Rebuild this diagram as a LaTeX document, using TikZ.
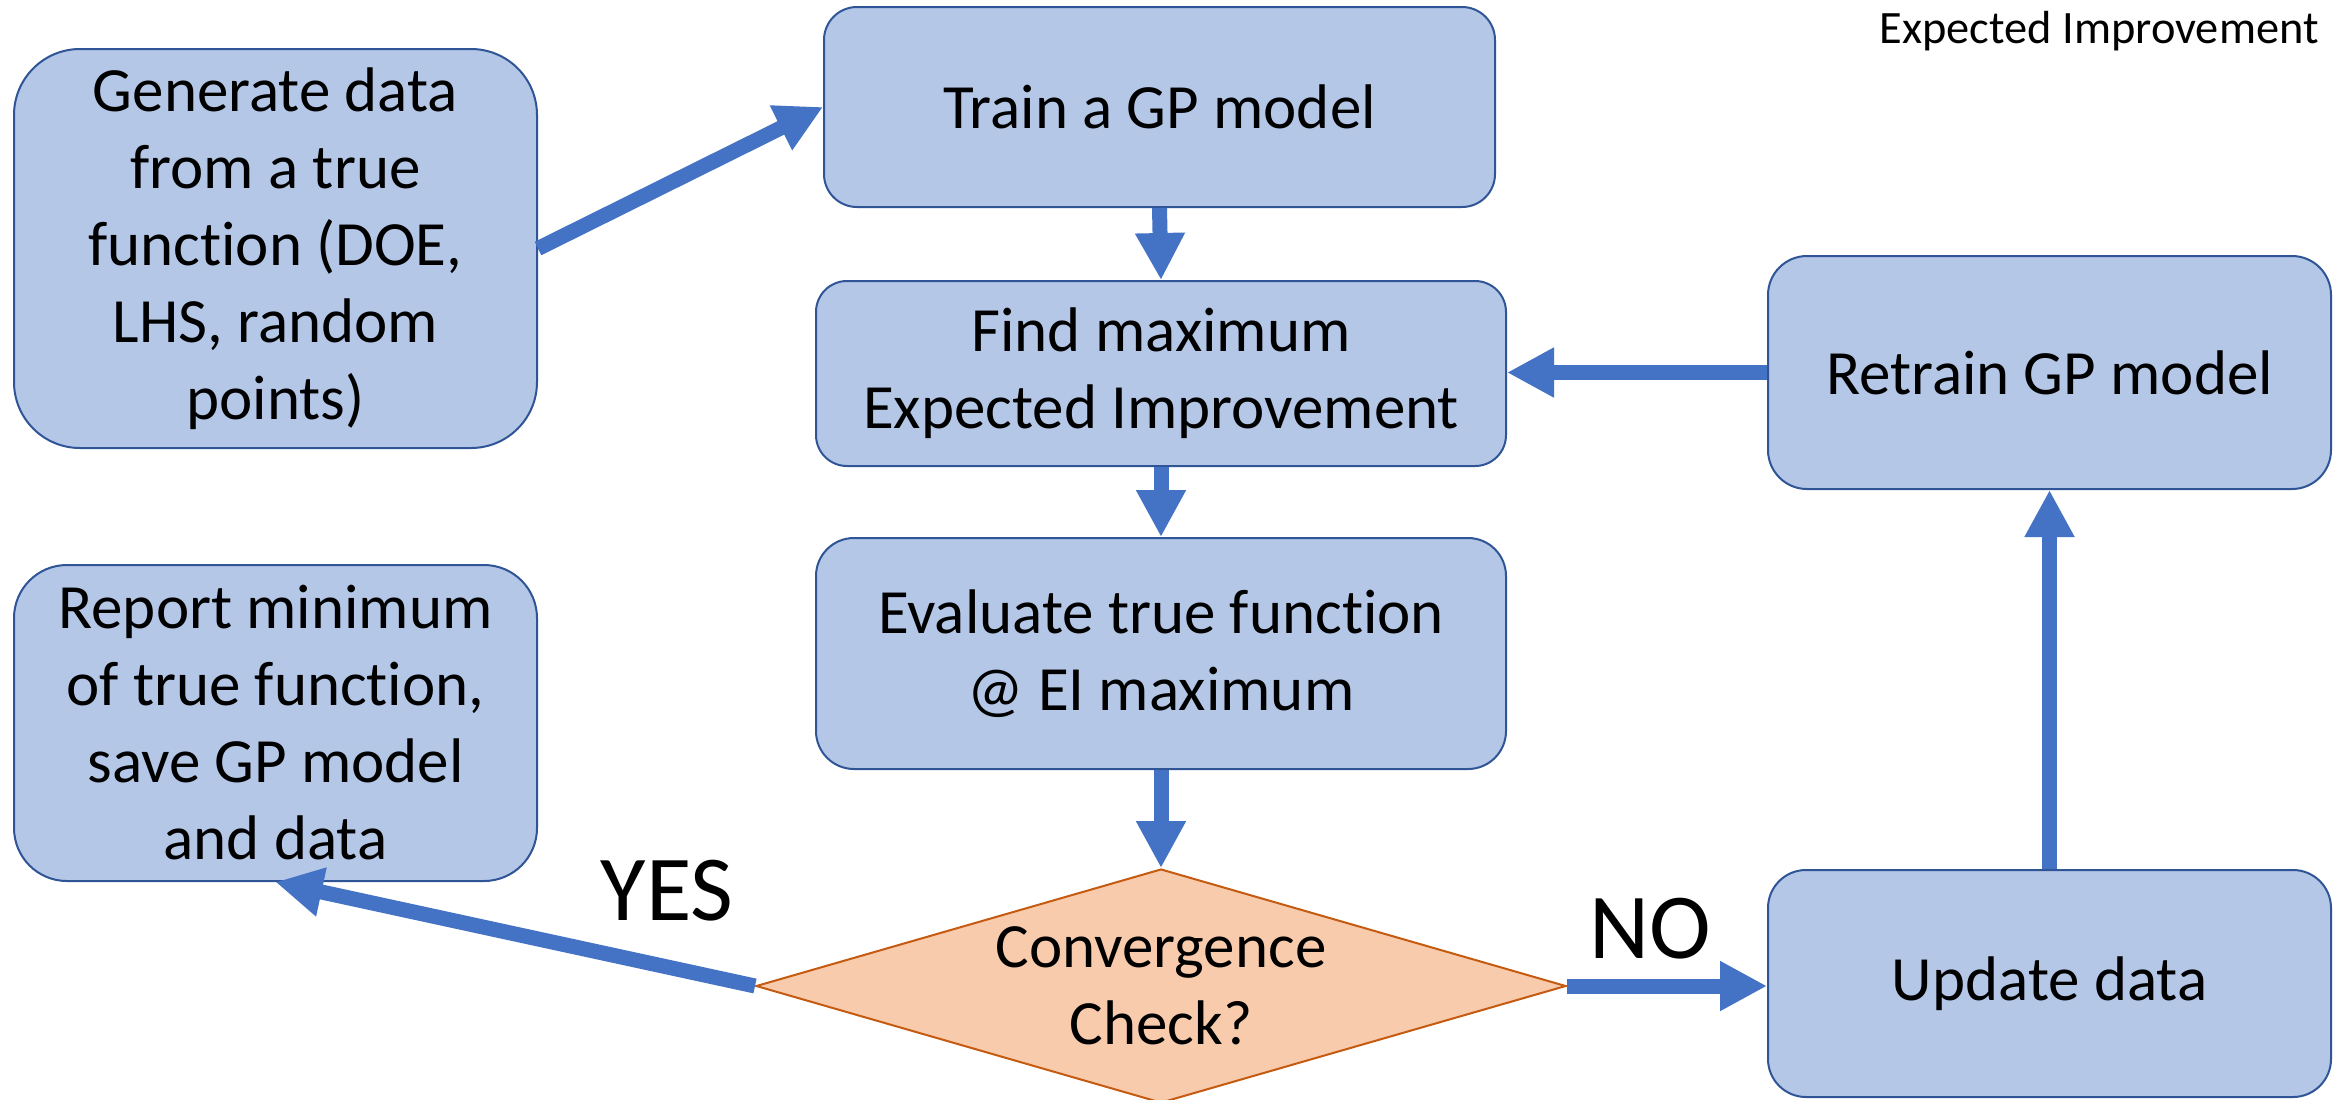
\documentclass[tikz,border=0pt]{standalone}
\usepackage{fontspec}
\setmainfont{Carlito}[Ligatures=NoCommon]
\usetikzlibrary{arrows.meta,shapes.geometric}
\definecolor{boxfill}{HTML}{B4C7E7}
\definecolor{boxline}{HTML}{2F5597}
\definecolor{arrowblue}{HTML}{4472C4}
\definecolor{diafill}{HTML}{F8CBAD}
\definecolor{dialine}{HTML}{C55A11}
\begin{document}
\begin{tikzpicture}[x=0.5pt,y=-0.5pt,
  procbox/.style={rectangle, draw=boxline, fill=boxfill, line width=1pt,
    align=center, inner sep=0pt, font=\fontsize{31.5}{38.5}\selectfont},
  flow/.style={draw=arrowblue, line width=7.5pt,
    -{Triangle[length=23.5pt,width=23.5pt]}},
  answer/.style={anchor=base, inner sep=0pt, font=\fontsize{46.5}{50}\selectfont}
]
\useasboundingbox (0,0) rectangle (2346,1099);
\fill[white] (0,0) rectangle (2346,1099);

\node[procbox, minimum width=261.5pt, minimum height=199.5pt, rounded corners=33pt]
  (gen) at (275.5,248.5) {Generate data\\from a true\\function (DOE,\\LHS, random\\points)};
\node[procbox, minimum width=335.5pt, minimum height=100pt, rounded corners=16.5pt]
  (train) at (1159.5,107) {Train a GP model};
\node[procbox, minimum width=345pt, minimum height=92.5pt, rounded corners=15.5pt]
  (find) at (1161,373.5) {Find maximum\\Expected Improvement};
\node[procbox, minimum width=345pt, minimum height=115.5pt, rounded corners=19pt]
  (eval) at (1161,653.5) {Evaluate true function\\@ EI maximum};
\node[procbox, minimum width=281.5pt, minimum height=116.5pt, rounded corners=19.5pt]
  (retrain) at (2049.5,372.5) {Retrain GP model};
\node[procbox, minimum width=261.5pt, minimum height=158pt, rounded corners=26.5pt]
  (report) at (275.5,723) {Report minimum\\of true function,\\save GP model\\and data};
\node[procbox, minimum width=281.5pt, minimum height=113.5pt, rounded corners=19pt]
  (update) at (2049.5,983.5) {Update data};

\node[diamond, draw=dialine, fill=diafill, line width=1pt, inner sep=0pt,
  minimum width=405pt, minimum height=117pt, aspect=3.46]
  (dia) at (1161,986) {};
\node[align=center, inner sep=0pt, font=\fontsize{31.5}{38.5}\selectfont]
  (diatext) at (dia.center) {Convergence\\Check?};

\node[answer] (yes) at (667,920) {YES};
\node[answer] (no) at (1650,958) {NO};

\node[anchor=base east, inner sep=0pt, font=\fontsize{23.2}{28}\selectfont]
  (legend) at (2319,43) {Expected Improvement};

\draw[flow] (gen.east) -- (train.west);
\draw[flow] (train.south) -- (find.north);
\draw[flow] (find.south) -- (eval.north);
\draw[flow] (eval.south) -- (dia.north);
\draw[flow] (dia.west) -- (report.south);
\draw[flow] (dia.east) -- (dia.east -| update.west);
\draw[flow] (update.north) -- (retrain.south);
\draw[flow] (retrain.west) -- (retrain.west -| find.east);
\end{tikzpicture}
\end{document}
